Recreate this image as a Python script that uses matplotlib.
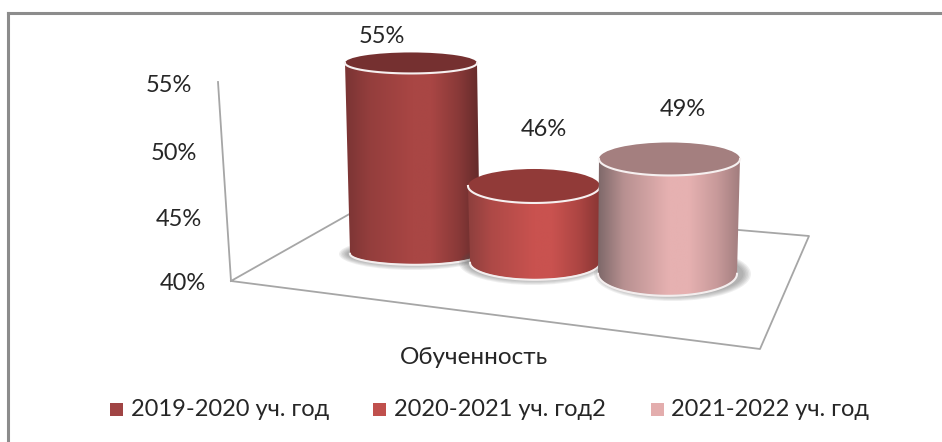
import numpy as np
import matplotlib
matplotlib.use('Agg')
import matplotlib.pyplot as plt
from matplotlib.path import Path
from matplotlib.patches import PathPatch, Ellipse, Rectangle
from matplotlib.colors import LinearSegmentedColormap, to_rgb

plt.rcParams['font.family'] = ['Lato', 'Open Sans', 'DejaVu Sans']

# data
years = ['2019-2020 уч. год', '2020-2021 уч. год2', '2021-2022 уч. год']
values = [55, 46, 49]
category = 'Обученность'
ticks = [40, 45, 50, 55]

# look
colors = ['#a94644', '#c9524f', '#e6b1b1']
swatches = ['#a04444', '#c0504d', '#e3adad']
left_dark = ['#7a3434', '#8d3f3d', '#7e6869']
right_dark = ['#632a2a', '#8a3634', '#a27d7e']
top_colors = ['#753030', '#913a38', '#a47f7f']
y_per_point = 12.67  # pixels for one percent

# position of each cylinder on the floor: left, right at top and at base, floor y, ellipse half heights
top_lr = [(345, 477), (468, 600), (599, 740)]
base_lr = [(350, 480), (470, 600), (598, 737)]
floor_y = [253, 262, 273]
top_hh = [10.5, 17, 16.5]
base_hh = [11, 17, 22]

label_dx = [-29, 10, 13]
label_dy = [26, 56, 49]

fig = plt.figure(figsize=(9.42, 4.42), dpi=100)
ax = fig.add_axes([0, 0, 1, 1])
ax.axis('off')

# frame of the screenshot
ax.plot([8, 8], [442, 13], color='#8c8c8c', lw=2.2, zorder=1)
ax.plot([8, 942], [13, 13], color='#8c8c8c', lw=2.2, zorder=1)

# walls and floor
line_col = '#a6a6a6'
ax.plot([218, 231], [82, 281], color=line_col, lw=1.3, zorder=1)
ax.plot([231, 376, 809, 760, 231], [281, 199, 236, 349, 281], color=line_col, lw=1.3, zorder=1)

# tick labels
tick_x = [206, 202, 197, 192]
tick_y = [284, 220, 154, 86]
for t, x, y in zip(ticks, tick_x, tick_y):
    ax.text(x, y, '%d%%' % t, fontsize=17, color='#262626', ha='right', va='center', zorder=5)


def mix(a, b, w):
    return tuple(w * p + (1 - w) * q for p, q in zip(to_rgb(a), to_rgb(b)))


def cylinder(i, z):
    tl, tr = top_lr[i]
    bl, br = base_lr[i]
    by = floor_y[i]
    ty = by - (values[i] - ticks[0]) * y_per_point
    thh, bhh = top_hh[i], base_hh[i]

    # soft shadow round the base
    cx = (bl + br) / 2
    for k in range(6):
        ax.add_patch(Ellipse((cx + (5 if i == 2 else -2), by + 1), br - bl + 18 - k * 3, 2 * bhh + 10 - k * 2,
                             color='#505050', alpha=0.09, lw=0, zorder=z))

    # body outline
    t = np.linspace(np.pi, 0, 60)
    bottom_x = (bl + br) / 2 + (br - bl) / 2 * np.cos(t)
    bottom_y = by + bhh * np.sin(t)
    t2 = np.linspace(0, np.pi, 60)
    front_x = (tl + tr) / 2 + (tr - tl) / 2 * np.cos(t2)
    front_y = ty + thh * np.sin(t2)
    verts = np.vstack([np.column_stack([bottom_x, bottom_y]), np.column_stack([front_x, front_y])])
    verts = np.vstack([verts, verts[0]])
    body = PathPatch(Path(verts), facecolor='none', edgecolor='none', zorder=z + 0.1)
    ax.add_patch(body)

    # side shading, brightest a little right of the middle
    cmap = LinearSegmentedColormap.from_list('c%d' % i, [(0, left_dark[i]),
                                                          (0.18, mix(left_dark[i], colors[i], 0.45)),
                                                          (0.5, colors[i]), (0.64, colors[i]),
                                                          (0.84, mix(right_dark[i], colors[i], 0.45)),
                                                          (1, right_dark[i])])
    img = ax.imshow(np.linspace(0, 1, 256).reshape(1, -1), cmap=cmap, aspect='auto', interpolation='bilinear',
                    extent=[min(tl, bl), max(tr, br), by + bhh + 1, ty - 1], zorder=z + 0.2)
    img.set_clip_path(body)

    # rim of the base and of the top
    ax.plot(bottom_x, bottom_y + 0.8, color='#f4eeee', lw=1.5, zorder=z + 0.3)
    ax.add_patch(Ellipse(((tl + tr) / 2, ty), tr - tl, 2 * thh, facecolor=top_colors[i], edgecolor='none', zorder=z + 0.4))
    ax.plot(front_x, front_y, color='#f6f0f0', lw=1.5, zorder=z + 0.5)

    ax.text((tl + tr) / 2 + label_dx[i], ty - label_dy[i], '%d%%' % values[i], fontsize=17, color='#262626',
            ha='center', va='center', zorder=6)


for i in range(3):
    cylinder(i, 2 + i)
ax.set_xlim(0, 942)
ax.set_ylim(442, 0)

# category label
ax.text(474, 358, category, fontsize=17.5, color='#262626', ha='center', va='center', zorder=6)

# legend
swatch_x = [110, 373, 651]
text_x = [131, 394, 671]
for i in range(3):
    ax.add_patch(Rectangle((swatch_x[i], 403), 12.5, 12.5, facecolor=swatches[i], edgecolor='none', zorder=6))
    ax.text(text_x[i], 410, years[i], fontsize=17, color='#262626', ha='left', va='center', zorder=6)

fig.savefig('out.png', dpi=100)
